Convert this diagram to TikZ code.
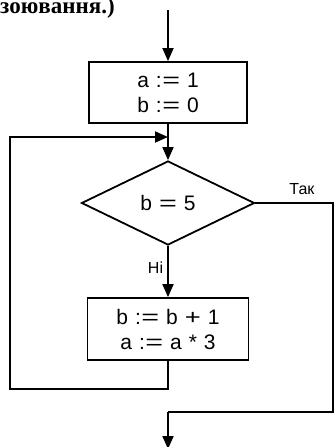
\documentclass[tikz,border=0pt]{standalone}
\usepackage{fontspec}
\setmainfont{Liberation Sans}
\newfontfamily\serifbold{Liberation Serif}
\usetikzlibrary{shapes.geometric,arrows.meta}
\newcommand\myboxfont{\fontsize{21}{25}\selectfont\spaceskip=7pt\relax}
\newcommand\weq{\scalebox{1.45}[1]{=}}
\newcommand\wplus{\scalebox{1.3}[1]{+}}
\newcommand\assign{:\kern0.5pt\weq}
\begin{document}
\begin{tikzpicture}[x=1pt,y=-1pt,
  arr/.style={line width=1.8pt,-{Triangle[length=13pt,width=11pt]}},
  procbox/.style={draw,line width=1.8pt,rectangle,inner sep=0pt,align=center,font=\myboxfont},
  decbox/.style={draw,line width=1.8pt,diamond,aspect=2.06,inner sep=0pt,font=\myboxfont},
  lbl/.style={font=\fontsize{16}{18}\selectfont,inner sep=0pt}]
\useasboundingbox (0,0) rectangle (335,447);
\clip (0,0) rectangle (335,447);
\node[anchor=base west,inner sep=0pt,font=\serifbold\bfseries\fontsize{23}{25}\selectfont] (title) at (0,13) {зоювання.)};
\coordinate (start) at (168,10);
\node[procbox,minimum width=158pt,minimum height=61pt] (box1) at (168,92.5) {a \assign{} 1\\b \assign{} 0};
\node[decbox,minimum width=173pt,minimum height=84pt] (dec) at (168,203) {b \weq{} 5};
\node[procbox,minimum width=161pt,minimum height=62pt] (box2) at (168,329) {b \assign{} b \wplus{} 1\\a \assign{} a * 3};
\coordinate (join) at (168,137);
\coordinate (lb) at (10,389);
\coordinate (lt) at (10,137);
\coordinate (rt) at (333,203);
\coordinate (rb) at (333,412);
\coordinate (mb) at (168,412);
\coordinate (endp) at (168,449);
\draw[arr] (start) -- (box1.north);
\draw[arr] (box1.south) -- (dec.north);
\draw[arr] (dec.south) -- node[lbl,pos=0.42,left=4pt]{Ні} (box2.north);
\draw[arr] (box2.south) |- (lb) -- (lt) -- (join);
\draw[line width=1.8pt] (dec.east) -- node[lbl,above=7pt,pos=0.6]{Так} (rt) -- (rb) -- (mb);
\draw[arr] (mb) -- (endp);
\end{tikzpicture}
\end{document}
